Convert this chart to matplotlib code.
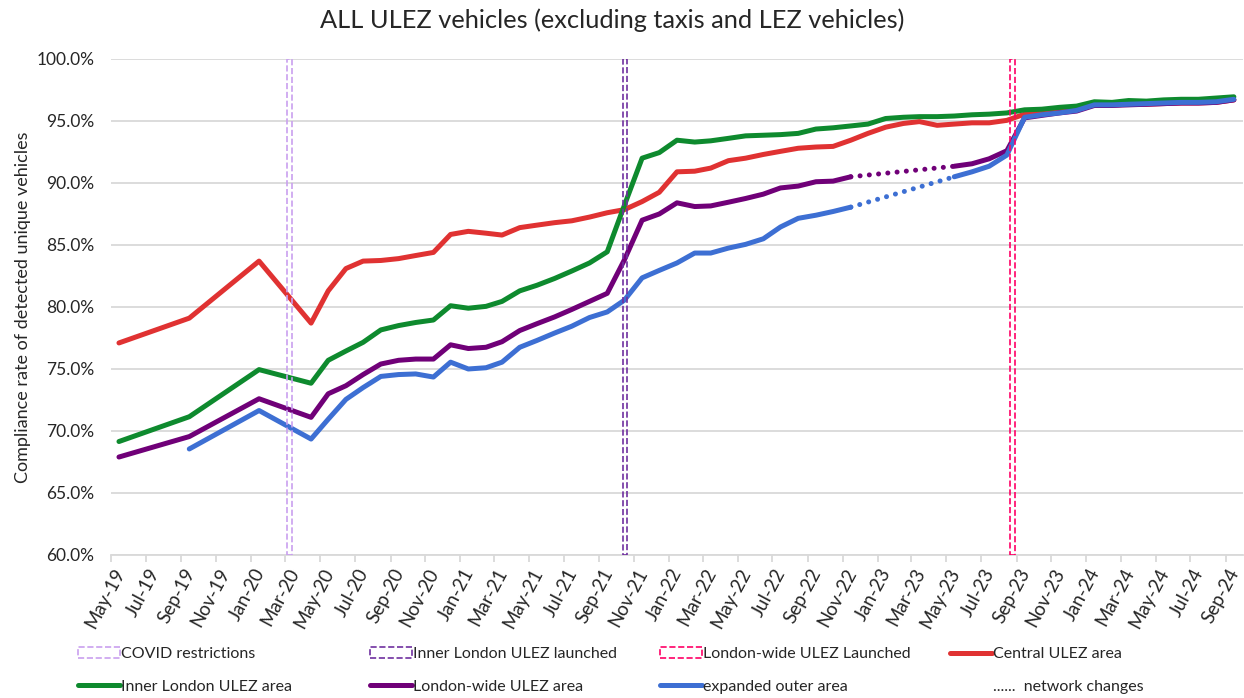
import pandas as pd
import matplotlib.pyplot as plt
from matplotlib.lines import Line2D
from matplotlib.patches import Patch
import matplotlib.dates as mdates
import matplotlib.ticker as mticker
import matplotlib.transforms as mtrans

plt.rcParams['font.family'] = ['Lato', 'DejaVu Sans']
plt.rcParams['font.size'] = 12

# >>> data (compliance %, points at mid-month)
months = ['2019-05', '2019-09', '2020-01', '2020-04', '2020-05', '2020-06', '2020-07', '2020-08',
          '2020-09', '2020-10', '2020-11', '2020-12', '2021-01', '2021-02', '2021-03', '2021-04',
          '2021-05', '2021-06', '2021-07', '2021-08', '2021-09', '2021-10', '2021-11', '2021-12',
          '2022-01', '2022-02', '2022-03', '2022-04', '2022-05', '2022-06', '2022-07', '2022-08',
          '2022-09', '2022-10', '2022-11', '2022-12', '2023-01', '2023-02', '2023-03', '2023-04',
          '2023-05', '2023-06', '2023-07', '2023-08', '2023-09', '2023-10', '2023-11', '2023-12',
          '2024-01', '2024-02', '2024-03', '2024-04', '2024-05', '2024-06', '2024-07', '2024-08',
          '2024-09']
N = None
central = [77.1, 79.1, 83.7, 78.7, 81.3, 83.1, 83.7, 83.75, 83.9, 84.15, 84.4, 85.85, 86.1, 85.95,
           85.8, 86.4, 86.6, 86.8, 86.95, 87.25, 87.6, 87.85, 88.5, 89.25, 90.9, 90.95, 91.2, 91.8,
           92.0, 92.3, 92.55, 92.8, 92.9, 92.95, 93.45, 94.0, 94.5, 94.8, 94.95, 94.65, 94.75, 94.85,
           94.85, 95.05, 95.55, 95.75, 95.8, 95.9, 96.3, 96.3, 96.35, 96.35, 96.4, 96.45, 96.45,
           96.5, 96.7]
inner = [69.15, 71.15, 74.95, 73.85, 75.7, 76.45, 77.15, 78.15, 78.5, 78.75, 78.95, 80.1, 79.9,
         80.05, 80.45, 81.3, 81.75, 82.3, 82.9, 83.55, 84.45, 88.2, 92.0, 92.45, 93.45, 93.3, 93.4,
         93.6, 93.8, 93.85, 93.9, 94.0, 94.35, 94.45, 94.6, 94.75, 95.2, 95.3, 95.35, 95.35, 95.4,
         95.5, 95.55, 95.65, 95.9, 95.95, 96.1, 96.2, 96.55, 96.5, 96.65, 96.6, 96.7, 96.75, 96.75,
         96.85, 96.95]
londonwide = [67.9, 69.55, 72.6, 71.1, 73.0, 73.65, 74.55, 75.4, 75.7, 75.8, 75.8, 76.95, 76.65,
              76.75, 77.2, 78.1, 78.65, 79.2, 79.8, 80.45, 81.1, 83.8, 87.0, 87.5, 88.4, 88.1, 88.15,
              88.45, 88.75, 89.1, 89.6, 89.75, 90.1, 90.15, 90.5, N, N, N, N, N, 91.35, 91.55, 91.95,
              92.6, 95.25, 95.45, 95.65, 95.8, 96.25, 96.25, 96.3, 96.35, 96.4, 96.45, 96.45, 96.5,
              96.7]
outer = [N, 68.55, 71.65, 69.35, 70.95, 72.55, 73.5, 74.4, 74.55, 74.6, 74.35, 75.55, 75.0, 75.1,
         75.55, 76.75, 77.3, 77.9, 78.45, 79.15, 79.6, 80.55, 82.35, 82.95, 83.55, 84.35, 84.35,
         84.75, 85.05, 85.5, 86.45, 87.15, 87.4, 87.7, 88.05, N, N, N, N, N, 90.5, 90.9, 91.35,
         92.25, 95.3, 95.5, 95.65, 95.85, 96.3, 96.3, 96.35, 96.4, 96.45, 96.5, 96.5, 96.55, 96.75]

# months either side of the network changes gap (dotted)
gapFrom, gapTo = '2022-11', '2023-05'

# event markers (start, end of the dashed box)
events = ['COVID restrictions', 'Inner London ULEZ launched', 'London-wide ULEZ Launched']
eventStart = ['2020-03-04', '2021-10-12', '2023-08-20']
eventEnd = ['2020-03-13', '2021-10-20', '2023-08-29']
eventColors = ['#c9a0ef', '#7030a0', '#ff0066']

idx = pd.to_datetime([m + '-15' for m in months])
df = pd.DataFrame({'central': central, 'inner': inner, 'londonwide': londonwide, 'outer': outer},
                  index=idx, dtype=float)

colors = {'central': '#e03232', 'inner': '#0e8a2e', 'londonwide': '#700078', 'outer': '#3d6fd3'}
labels = {'central': 'Central ULEZ area', 'inner': 'Inner London ULEZ area',
          'londonwide': 'London-wide ULEZ area', 'outer': 'expanded outer area'}
lw = 3.6

fig = plt.figure(figsize=(12.44, 6.98), dpi=100)
ax = fig.add_axes([0.0892, 0.2049, 0.9100, 0.7106])

for key in ['central', 'inner', 'londonwide', 'outer']:
    s = df[key]
    ax.plot(s.index, s.values, color=colors[key], lw=lw, solid_capstyle='round',
            solid_joinstyle='round')
    if key in ('londonwide', 'outer'):
        bridge = s.loc[[pd.Timestamp(gapFrom + '-15'), pd.Timestamp(gapTo + '-15')]]
        ax.plot(bridge.index, bridge.values, color=colors[key], lw=lw,
                linestyle=(0, (0.01, 1.85)), dash_capstyle='round')

for s0, e0, c in zip(eventStart, eventEnd, eventColors):
    ax.axvspan(pd.Timestamp(s0), pd.Timestamp(e0), fill=False, edgecolor=c, linestyle='--',
               lw=1.2, zorder=5)

ax.set_ylim(60, 100)
ax.set_xlim(pd.Timestamp('2019-05-01'), pd.Timestamp('2024-10-01'))
ax.yaxis.set_major_locator(mticker.MultipleLocator(5))
ax.yaxis.set_major_formatter(mticker.FuncFormatter(lambda v, p: '%.1f%%' % v))
ax.xaxis.set_major_locator(mdates.MonthLocator(bymonth=[1, 3, 5, 7, 9, 11]))
ax.xaxis.set_major_formatter(mdates.DateFormatter('%b-%y'))
ax.grid(axis='y', color='#d9d9d9', lw=1.3)
ax.set_axisbelow(True)
for sp in ['top', 'right', 'left']:
    ax.spines[sp].set_visible(False)
ax.spines['bottom'].set_color('#d9d9d9')
ax.spines['bottom'].set_linewidth(1.3)
ax.tick_params(axis='y', length=0, pad=12, labelsize=12.5, labelcolor='#262626')
ax.tick_params(axis='x', length=5, width=1.3, color='#d9d9d9', labelsize=13.5,
               labelcolor='#262626', pad=4)
shift = mtrans.ScaledTranslation(9 / 100, -2 / 100, fig.dpi_scale_trans)
for t in ax.get_xticklabels():
    t.set_rotation(62)
    t.set_ha('right')
    t.set_va('center')
    t.set_rotation_mode('anchor')
    t.set_transform(t.get_transform() + shift)

ax.set_ylabel('Compliance rate of detected unique vehicles', fontsize=13, color='#262626')
ax.yaxis.set_label_coords(-0.071, 0.5)
fig.suptitle('ALL ULEZ vehicles (excluding taxis and LEZ vehicles)', x=0.492, y=0.988,
             fontsize=18.3, color='#262626')

# >>> legend, 4 columns of 2 rows
def lineH(c):
    return Line2D([], [], color=c, lw=lw, solid_capstyle='round')

def boxH(c):
    return Patch(facecolor='none', edgecolor=c, linestyle='--', lw=1.2)

cols = [[(boxH(eventColors[0]), events[0]), (lineH(colors['inner']), labels['inner'])],
        [(boxH(eventColors[1]), events[1]), (lineH(colors['londonwide']), labels['londonwide'])],
        [(boxH(eventColors[2]), events[2]), (lineH(colors['outer']), labels['outer'])],
        [(lineH(colors['central']), labels['central']),
         (Line2D([], [], color='none'), '......  network changes')]]
colX = [78, 370, 660, 950]
for x0, items in zip(colX, cols):
    fig.legend([h for h, l in items], [l for h, l in items], loc='upper left',
               bbox_to_anchor=(x0 / 1244, 1 - 647 / 698), frameon=False, fontsize=11.5,
               handlelength=2.6, handletextpad=0.12, borderpad=0, borderaxespad=0,
               labelspacing=1.15, labelcolor='#262626')

plt.savefig('out.png', dpi=100)
